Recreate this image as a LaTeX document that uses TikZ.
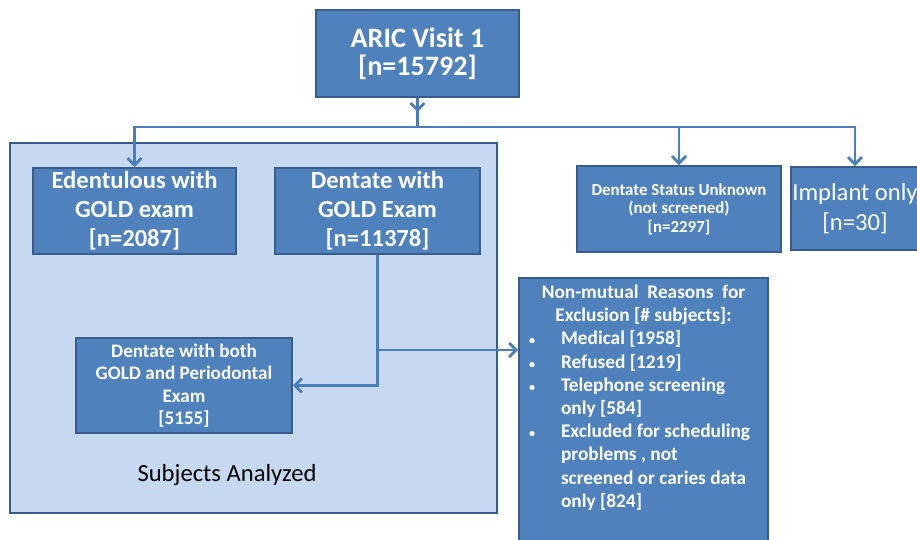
\documentclass[tikz,border=0pt]{standalone}
\usepackage{fontspec}
\setmainfont{Carlito}
\usetikzlibrary{arrows.meta, positioning}
\definecolor{boxblue}{HTML}{4F81BD}
\definecolor{edgeblue}{HTML}{385D8A}
\definecolor{lineblue}{HTML}{4A7EBB}
\definecolor{paleblue}{HTML}{C6D9F1}
\newcommand{\exclitem}[1]{\hspace*{0.2cm}\makebox[0.64cm][l]{\fontsize{7}{7}\selectfont\textbullet}#1}
\newcommand{\exclmore}[1]{\hspace*{0.84cm}#1}
\tikzset{
    bluebox/.style={rectangle, draw=edgeblue, fill=boxblue, line width=1.1pt, text=white, align=center, inner sep=1pt},
    palebox/.style={rectangle, draw=edgeblue, fill=paleblue, line width=1.4pt},
    flow/.style={draw=lineblue, line width=1.6pt},
    bigfont/.style={font=\fontsize{16}{16}\selectfont\bfseries},
    midfont/.style={font=\fontsize{14}{16.5}\selectfont\bfseries},
    smallfont/.style={font=\fontsize{9.6}{10.5}\selectfont\bfseries}
}
\begin{document}
\begin{tikzpicture}[x=0.02cm, y=-0.02cm, >={Straight Barb[length=1.4mm, width=2.8mm]}]
\useasboundingbox (0,0) rectangle (917,540);
\fill[white] (0,0) rectangle (917,540);
% group of analysed subjects
\node[palebox, minimum width=9.74cm, minimum height=7.4cm] (analyzed) at (253.5,328) {};
\node[font=\fontsize{14}{17}\selectfont] (analyzedlabel) at (227,475) {Subjects Analyzed};
% boxes
\node[bluebox, bigfont, minimum width=4.06cm, minimum height=1.74cm] (visit) at (417.5,53.5) {ARIC Visit 1\\{}[n=15792]};
\node[bluebox, midfont, minimum width=4.06cm, minimum height=1.72cm] (edent) at (134.5,211) {Edentulous with\\GOLD exam\\{}[n=2087]};
\node[bluebox, midfont, minimum width=4.1cm, minimum height=1.72cm] (dentgold) at (377.5,211) {Dentate with\\GOLD Exam\\{}[n=11378]};
\node[bluebox, smallfont, minimum width=4.08cm, minimum height=1.72cm] (unknown) at (679,209) {Dentate Status Unknown\\(not screened)\\{}[n=2297]};
\node[bluebox, font=\fontsize{14}{17}\selectfont, minimum width=2.52cm, minimum height=1.66cm] (implant) at (855,208.5) {Implant only\\{}[n=30]};
\node[bluebox, font=\fontsize{10.9}{12.8}\selectfont\bfseries, minimum width=4.32cm, minimum height=1.9cm] (both) at (184,385.5) {Dentate with both\\GOLD and Periodontal\\Exam\\{}[5155]};
\node[bluebox, anchor=north, inner sep=0pt, align=left] (nonmut) at (643.5,277) {%
\begin{minipage}[t][5.6cm][t]{4.98cm}
\fontsize{11}{13.2}\selectfont\bfseries
\vspace*{4pt}
\centering Non-mutual\ \ Reasons\ \ for\\
Exclusion [\#\ subjects]:\par
\raggedright
\exclitem{Medical [1958]}\\
\exclitem{Refused [1219]}\\
\exclitem{Telephone screening}\\
\exclmore{only [584]}\\
\exclitem{Excluded for scheduling}\\
\exclmore{problems , not}\\
\exclmore{screened or caries data}\\
\exclmore{only [824]}
\end{minipage}};
% connectors
\coordinate (tip) at (417.5,112);
\coordinate (bus) at (417.5,127);
\coordinate (split) at (377.5,350);
\draw[flow] (visit.south) -- (bus);
\draw[flow,->] (visit.south) -- (tip);
\draw[flow,->] (bus) -| (edent.north);
\draw[flow,->] (bus) -| (unknown.north);
\draw[flow,->] (bus) -| (implant.north);
\draw[flow,->] (dentgold.south) |- (both.east);
\draw[flow,->] (split) -- (nonmut.west |- split);
\end{tikzpicture}
\end{document}
